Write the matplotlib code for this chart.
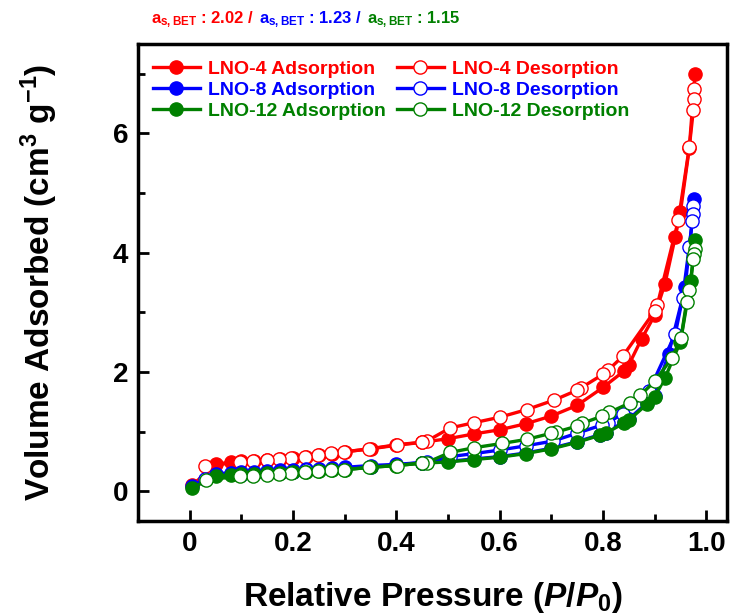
import matplotlib
matplotlib.use('Agg')
import matplotlib.pyplot as plt
from matplotlib.ticker import MultipleLocator

plt.rcParams['font.family'] = ['Liberation Sans', 'DejaVu Sans']
plt.rcParams['font.weight'] = 'bold'
plt.rcParams['mathtext.fontset'] = 'custom'
plt.rcParams['mathtext.rm'] = 'Liberation Sans:bold'
plt.rcParams['mathtext.bf'] = 'Liberation Sans:bold'
plt.rcParams['mathtext.it'] = 'Liberation Sans:bold:italic'

# LNO-4
r_ads_x = [0.005, 0.05, 0.08, 0.1, 0.125, 0.15, 0.175, 0.2, 0.225, 0.25, 0.275, 0.3, 0.35, 0.4, 0.45,
           0.5, 0.55, 0.6, 0.65, 0.7, 0.75, 0.8, 0.84, 0.85, 0.875, 0.9, 0.92, 0.94, 0.95, 0.967, 0.978]
r_ads_y = [0.1, 0.45, 0.49, 0.5, 0.51, 0.53, 0.54, 0.56, 0.58, 0.61, 0.63, 0.66, 0.71, 0.77, 0.82,
           0.88, 0.96, 1.03, 1.13, 1.26, 1.44, 1.74, 2.01, 2.12, 2.56, 2.95, 3.48, 4.27, 4.69, 5.75, 7.0]
r_des_x = [0.977, 0.976, 0.975, 0.967, 0.946, 0.905, 0.9, 0.838, 0.81, 0.8, 0.757, 0.749, 0.706, 0.653,
           0.6, 0.551, 0.504, 0.459, 0.449, 0.401, 0.348, 0.299, 0.274, 0.248, 0.223, 0.197, 0.173,
           0.149, 0.123, 0.098, 0.03]
r_des_y = [6.75, 6.57, 6.4, 5.77, 4.55, 3.12, 3.02, 2.26, 2.03, 1.96, 1.73, 1.69, 1.53, 1.37,
           1.24, 1.15, 1.06, 0.84, 0.82, 0.78, 0.71, 0.66, 0.64, 0.61, 0.58, 0.56, 0.54,
           0.53, 0.51, 0.49, 0.42]

# LNO-8
b_ads_x = [0.005, 0.05, 0.08, 0.1, 0.125, 0.15, 0.175, 0.2, 0.225, 0.25, 0.275, 0.3, 0.35, 0.4, 0.45,
           0.5, 0.55, 0.6, 0.65, 0.7, 0.75, 0.795, 0.805, 0.84, 0.85, 0.885, 0.9, 0.927, 0.959, 0.977]
b_ads_y = [0.08, 0.29, 0.31, 0.32, 0.33, 0.34, 0.35, 0.36, 0.37, 0.38, 0.39, 0.40, 0.43, 0.45, 0.48,
           0.50, 0.54, 0.58, 0.64, 0.72, 0.83, 0.95, 0.98, 1.16, 1.21, 1.48, 1.6, 2.3, 3.42, 4.9]
b_des_x = [0.975, 0.975, 0.973, 0.967, 0.954, 0.94, 0.889, 0.838, 0.81, 0.798, 0.749, 0.703, 0.65,
           0.6, 0.55, 0.504, 0.459, 0.449, 0.4, 0.35, 0.3, 0.275, 0.25, 0.225, 0.2, 0.175, 0.15,
           0.125, 0.1, 0.03]
b_des_y = [4.78, 4.65, 4.53, 4.10, 3.24, 2.64, 1.68, 1.30, 1.15, 1.11, 0.97, 0.84, 0.76,
           0.69, 0.63, 0.58, 0.49, 0.48, 0.44, 0.41, 0.38, 0.37, 0.36, 0.35, 0.33, 0.31, 0.30,
           0.28, 0.27, 0.21]

# LNO-12
g_ads_x = [0.005, 0.05, 0.08, 0.1, 0.125, 0.15, 0.175, 0.2, 0.225, 0.25, 0.275, 0.3, 0.35, 0.4, 0.45,
           0.5, 0.55, 0.6, 0.65, 0.7, 0.75, 0.795, 0.805, 0.84, 0.85, 0.885, 0.9, 0.92, 0.95, 0.97, 0.978]
g_ads_y = [0.05, 0.26, 0.27, 0.28, 0.29, 0.30, 0.31, 0.32, 0.33, 0.34, 0.35, 0.36, 0.40, 0.43, 0.47,
           0.49, 0.53, 0.57, 0.63, 0.71, 0.82, 0.94, 0.97, 1.14, 1.19, 1.46, 1.58, 1.9, 2.51, 3.53, 4.21]
g_des_x = [0.978, 0.976, 0.975, 0.967, 0.962, 0.951, 0.933, 0.9, 0.872, 0.852, 0.812, 0.799, 0.76,
           0.749, 0.709, 0.699, 0.653, 0.604, 0.551, 0.504, 0.459, 0.449, 0.401, 0.348, 0.299, 0.274,
           0.248, 0.223, 0.197, 0.173, 0.149, 0.123, 0.098, 0.031]
g_des_y = [4.07, 3.97, 3.89, 3.37, 3.18, 2.57, 2.23, 1.84, 1.61, 1.48, 1.32, 1.26, 1.14,
           1.09, 0.99, 0.97, 0.87, 0.80, 0.73, 0.65, 0.48, 0.47, 0.43, 0.40, 0.36, 0.36,
           0.34, 0.33, 0.31, 0.29, 0.27, 0.26, 0.25, 0.19]

samples = ['LNO-4', 'LNO-8', 'LNO-12']
colors = ['#ff0000', '#0000ff', '#008000']
bet_values = ['2.02', '1.23', '1.15']
series = [(r_ads_x, r_ads_y, r_des_x, r_des_y),
          (b_ads_x, b_ads_y, b_des_x, b_des_y),
          (g_ads_x, g_ads_y, g_des_x, g_des_y)]

W, H = 731, 615
fig = plt.figure(figsize=(W / 100, H / 100), dpi=100)
ax = fig.add_axes([138 / W, 1 - 521 / H, (727 - 138) / W, (521 - 44) / H])

ads_handles = []
des_handles = []
for name, c, (ax_, ay, dx, dy) in zip(samples, colors, series):
    h1, = ax.plot(ax_, ay, '-o', color=c, lw=2.4, ms=9.5, mfc=c, mec=c,
                  label=f'{name} Adsorption')
    h2, = ax.plot(dx, dy, '-o', color=c, lw=2.4, ms=9.5, mfc='white', mec=c, mew=1.0,
                  label=f'{name} Desorption')
    ads_handles.append(h1)
    des_handles.append(h2)

ax.set_xlim(-0.1, 1.04)
ax.set_ylim(-0.5, 7.5)
ax.xaxis.set_major_locator(MultipleLocator(0.2))
ax.xaxis.set_minor_locator(MultipleLocator(0.1))
ax.yaxis.set_major_locator(MultipleLocator(2))
ax.yaxis.set_minor_locator(MultipleLocator(1))
ax.xaxis.set_major_formatter(plt.FuncFormatter(lambda v, p: '0' if abs(v) < 1e-9 else f'{v:.1f}'))
ax.tick_params(which='both', direction='in', width=2, labelsize=20, top=False, right=False)
ax.tick_params(which='major', length=8, pad=7)
ax.tick_params(which='minor', length=5)
for s in ax.spines.values():
    s.set_linewidth(2.5)

ax.set_xlabel('Relative Pressure ($P$/$P_0$)', fontsize=24, fontweight='bold', labelpad=17)
ax.set_ylabel('Volume Adsorbed (cm$^3$ g$^{-1}$)', fontsize=24, fontweight='bold', labelpad=38)

handles = ads_handles + des_handles
leg = ax.legend(handles=handles, ncol=2, loc='upper left',
                bbox_to_anchor=((153 - 138) / (727 - 138), 1 - 16 / (521 - 44)),
                frameon=False, fontsize=14, handlelength=2.4, columnspacing=0.55,
                handletextpad=0.45, labelspacing=0.18, borderaxespad=0, borderpad=0)
for t, h in zip(leg.get_texts(), handles):
    t.set_color(h.get_color())
    t.set_fontweight('bold')

# multi-coloured BET line above the axes
fig.canvas.draw()
renderer = fig.canvas.get_renderer()
x0 = 151 / W
y0 = 1 - 20 / H
for i, (c, v) in enumerate(zip(colors, bet_values)):
    s = r'$\mathbf{a}_{\mathbf{s,BET}}$' + f' : {v}' + (' /' if i < 2 else '')
    t = fig.text(x0, y0, s, color=c, fontsize=12, fontweight='bold', va='center', ha='left')
    bb = t.get_window_extent(renderer)
    x0 += (bb.width + 5) / fig.bbox.width

fig.savefig('out.png', dpi=100)
